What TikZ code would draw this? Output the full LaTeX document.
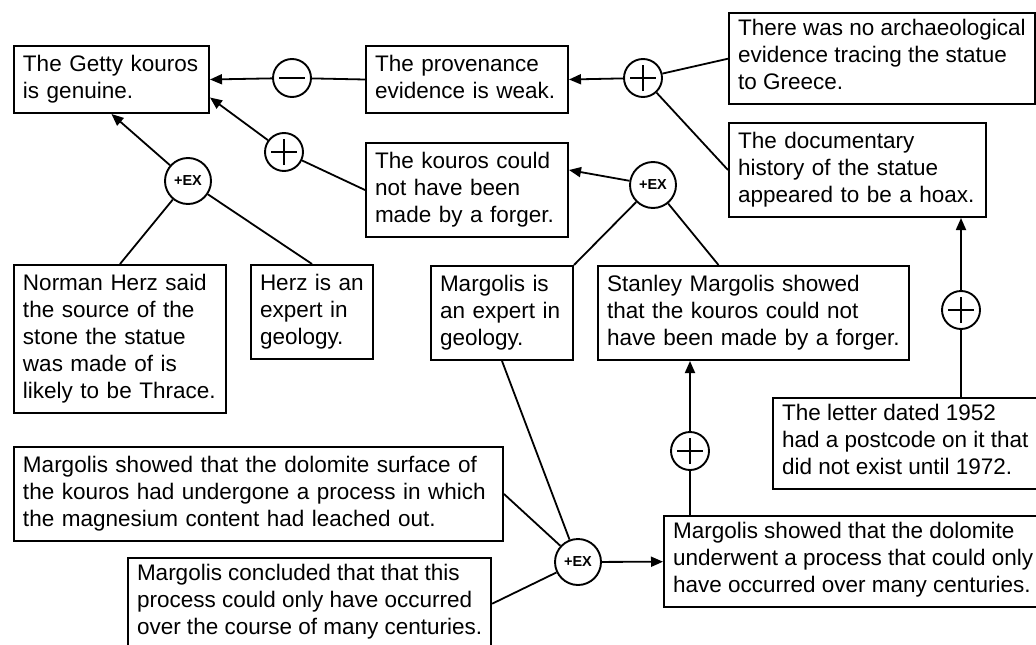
\documentclass[tikz,border=0pt]{standalone}
\usepackage{fontspec}
\setmainfont{Liberation Sans}
\usetikzlibrary{arrows.meta}

\tikzset{
  claim/.style={draw=black, line width=2pt, anchor=north west, align=left,
    inner xsep=9pt, inner ysep=6.5pt, font=\fontsize{22.5}{27}\selectfont,
    execute at begin node=\strut, execute at end node=\strut},
  bub/.style={shape=circle, draw=black, line width=1.9pt, inner sep=0pt, minimum size=38pt},
  probub/.style={bub, path picture={
    \draw[line width=1.8pt] ([xshift=-13pt]path picture bounding box.center) -- ([xshift=13pt]path picture bounding box.center)
      ([yshift=-13pt]path picture bounding box.center) -- ([yshift=13pt]path picture bounding box.center);}},
  conbub/.style={bub, path picture={
    \draw[line width=1.8pt] ([xshift=-13pt]path picture bounding box.center) -- ([xshift=13pt]path picture bounding box.center);}},
  exbub/.style={bub, minimum size=46pt, font=\fontsize{14.5}{16}\selectfont\bfseries}
}

\begin{document}
\begin{tikzpicture}[x=1pt, y=-1pt, line width=1.8pt, >={Triangle[length=12pt,width=10pt]}]
            \useasboundingbox (0,0) rectangle (1036,645);

            \node[claim, text width=177pt] (getty) at (13,45) {The Getty kouros\\is genuine.};
            \node[claim, text width=184pt] (prov) at (365,45) {The provenance\\evidence is weak.};
            \node[claim] (arch) at (728,12) {There was no archaeological\\evidence tracing the statue\\to Greece.};
            \node[claim, text width=239pt] (doc) at (728,122) {The documentary\\history of the statue\\appeared to be a hoax.};
            \node[claim, text width=184pt] (kour) at (365,142) {The kouros could\\not have been\\made by a forger.};
            \node[claim, text width=194pt] (norman) at (13,264) {Norman Herz said\\the source of the\\stone the statue\\was made of is\\likely to be Thrace.};
            \node[claim, text width=104pt] (herz) at (250,264) {Herz is an\\expert in\\geology.};
            \node[claim, text width=124pt] (mexp) at (430,265) {Margolis is\\an expert in\\geology.};
            \node[claim, text width=293pt] (stan) at (597,265) {Stanley Margolis showed\\that the kouros could not\\have been made by a forger.};
            \node[claim] (letter) at (772,397) {The letter dated 1952\\had a postcode on it that\\did not exist until 1972.};
            \node[claim, text width=471pt] (surf) at (13,446) {Margolis showed that the dolomite surface of\\the kouros had undergone a process in which\\the magnesium content had leached out.};
            \node[claim] (conc) at (127,557) {Margolis concluded that that this\\process could only have occurred\\over the course of many centuries.};
            \node[claim] (dol) at (663,515) {Margolis showed that the dolomite\\underwent a process that could only\\have occurred over many centuries.};

            \node[conbub] (con1) at (292,78) {};
            \node[probub] (pro1) at (643,78) {};
            \node[probub] (pro2) at (284,152) {};
            \node[probub] (pro3) at (961,310) {};
            \node[probub] (pro4) at (690,451) {};
            \node[exbub] (ex1) at (188,181) {+EX};
            \node[exbub] (ex2) at (653,185) {+EX};
            \node[exbub] (ex3) at (578,562) {+EX};

            \path [-] (prov.west) edge (con1);
            \path [->] (con1) edge (getty.east);
            \path [-] (arch.west) edge (pro1);
            \path [-] (doc.west) edge (pro1);
            \path [->] (pro1) edge (prov.east);
            \path [-] (kour.west) edge (pro2);
            \path [->] (pro2) edge ([yshift=-18pt]getty.east);
            \path [-] (norman.north) edge (ex1);
            \path [-] (herz.north) edge (ex1);
            \path [->] (ex1) edge (getty.south);
            \path [-] (mexp.north east) edge (ex2);
            \path [-] ([xshift=-35pt]stan.north) edge (ex2);
            \path [->] (ex2) edge ([yshift=20pt]kour.east);
            \path [-] (pro3 |- letter.north) edge (pro3);
            \path [->] (pro3) edge (pro3 |- doc.south);
            \path [-] (pro4 |- dol.north) edge (pro4);
            \path [->] (pro4) edge (pro4 |- stan.south);
            \path [-] (mexp.south) edge (ex3);
            \path [-] (surf.east) edge (ex3);
            \path [-] (conc.east) edge (ex3);
            \path [->] (ex3) edge (dol.west);
        \end{tikzpicture}
\end{document}
